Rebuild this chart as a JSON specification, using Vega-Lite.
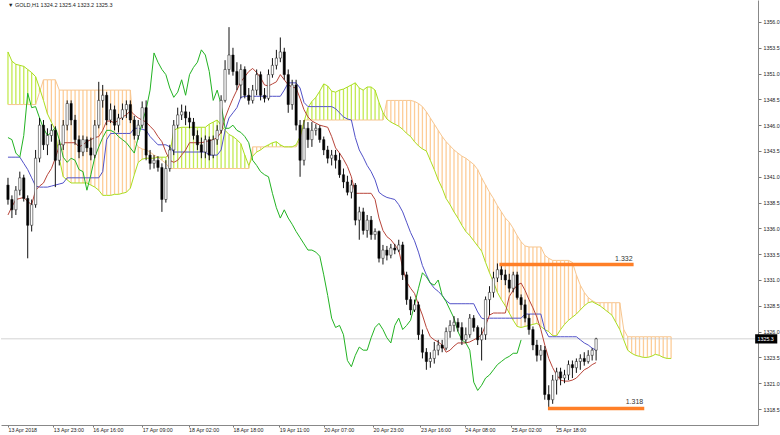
{
"$schema": "https://vega.github.io/schema/vega-lite/v6.json",
"width": 757, "height": 425, "padding": 0, "background": "white",
"config": {"view": {"stroke": null}, "font": "Liberation Sans"},
"datasets": {
"bars": [
{"i":0,"o":1340.2,"h":1340.9,"l":1338.3,"c":1338.8,"t":1337.3,"k":1342.9},
{"i":1,"o":1338.8,"h":1339.2,"l":1337.0,"c":1337.8,"t":1338.1,"k":1342.9},
{"i":2,"o":1337.8,"h":1340.1,"l":1337.3,"c":1339.7,"t":1338.8,"k":1342.9},
{"i":3,"o":1339.7,"h":1341.5,"l":1339.2,"c":1340.9,"t":1338.9,"k":1342.9},
{"i":4,"o":1340.9,"h":1341.2,"l":1338.6,"c":1338.9,"t":1339.0,"k":1342.3},
{"i":5,"o":1338.9,"h":1339.2,"l":1333.1,"c":1336.3,"t":1338.6,"k":1341.7},
{"i":6,"o":1336.3,"h":1338.8,"l":1335.7,"c":1338.3,"t":1338.3,"k":1340.9},
{"i":7,"o":1338.3,"h":1343.6,"l":1338.0,"c":1342.8,"t":1339.7,"k":1340.1},
{"i":8,"o":1342.8,"h":1346.7,"l":1342.4,"c":1346.0,"t":1340.1,"k":1340.0},
{"i":9,"o":1346.0,"h":1346.5,"l":1343.6,"c":1344.1,"t":1340.4,"k":1340.0},
{"i":10,"o":1344.1,"h":1345.7,"l":1343.1,"c":1345.0,"t":1341.2,"k":1340.0},
{"i":11,"o":1345.0,"h":1346.1,"l":1344.4,"c":1345.5,"t":1341.8,"k":1340.1},
{"i":12,"o":1345.5,"h":1345.9,"l":1340.0,"c":1342.6,"t":1342.8,"k":1340.2},
{"i":13,"o":1342.6,"h":1344.6,"l":1342.1,"c":1344.1,"t":1344.0,"k":1340.3},
{"i":14,"o":1344.1,"h":1346.5,"l":1343.6,"c":1346.0,"t":1344.3,"k":1340.4},
{"i":15,"o":1346.0,"h":1348.4,"l":1345.5,"c":1348.1,"t":1344.3,"k":1340.9},
{"i":16,"o":1348.1,"h":1348.4,"l":1346.0,"c":1346.5,"t":1344.3,"k":1340.9},
{"i":17,"o":1346.5,"h":1347.0,"l":1344.1,"c":1344.6,"t":1344.3,"k":1340.9},
{"i":18,"o":1344.6,"h":1345.0,"l":1342.8,"c":1343.4,"t":1343.9,"k":1340.9},
{"i":19,"o":1343.4,"h":1345.0,"l":1343.0,"c":1344.6,"t":1344.1,"k":1340.9},
{"i":20,"o":1344.6,"h":1344.9,"l":1343.4,"c":1343.8,"t":1344.4,"k":1340.9},
{"i":21,"o":1343.8,"h":1344.8,"l":1342.6,"c":1343.1,"t":1344.6,"k":1340.9},
{"i":22,"o":1343.1,"h":1346.5,"l":1342.8,"c":1346.0,"t":1344.8,"k":1340.9},
{"i":23,"o":1346.0,"h":1350.2,"l":1345.7,"c":1348.4,"t":1344.9,"k":1340.9},
{"i":24,"o":1348.4,"h":1349.9,"l":1347.7,"c":1348.9,"t":1345.5,"k":1341.5},
{"i":25,"o":1348.9,"h":1349.2,"l":1346.0,"c":1346.5,"t":1346.4,"k":1344.6},
{"i":26,"o":1346.5,"h":1348.1,"l":1346.2,"c":1347.5,"t":1346.4,"k":1345.2},
{"i":27,"o":1347.5,"h":1347.9,"l":1345.5,"c":1346.0,"t":1346.2,"k":1345.2},
{"i":28,"o":1346.0,"h":1347.1,"l":1345.3,"c":1346.7,"t":1346.5,"k":1345.2},
{"i":29,"o":1346.7,"h":1348.1,"l":1346.5,"c":1347.5,"t":1346.8,"k":1345.2},
{"i":30,"o":1347.5,"h":1348.4,"l":1346.7,"c":1348.0,"t":1347.0,"k":1345.2},
{"i":31,"o":1348.0,"h":1348.4,"l":1346.2,"c":1346.5,"t":1347.4,"k":1345.2},
{"i":32,"o":1346.5,"h":1346.9,"l":1344.6,"c":1345.0,"t":1347.0,"k":1345.7},
{"i":33,"o":1345.0,"h":1346.5,"l":1344.6,"c":1346.0,"t":1346.7,"k":1345.7},
{"i":34,"o":1346.0,"h":1348.3,"l":1345.7,"c":1347.7,"t":1346.5,"k":1345.6},
{"i":35,"o":1347.7,"h":1348.4,"l":1342.6,"c":1343.1,"t":1346.3,"k":1345.5},
{"i":36,"o":1343.1,"h":1343.6,"l":1341.7,"c":1342.3,"t":1345.9,"k":1344.9},
{"i":37,"o":1342.3,"h":1343.1,"l":1341.8,"c":1342.6,"t":1345.5,"k":1344.5},
{"i":38,"o":1342.6,"h":1343.0,"l":1341.5,"c":1341.9,"t":1344.9,"k":1344.1},
{"i":39,"o":1341.9,"h":1342.3,"l":1337.6,"c":1338.8,"t":1344.4,"k":1344.1},
{"i":40,"o":1338.8,"h":1342.6,"l":1338.5,"c":1341.8,"t":1343.4,"k":1344.1},
{"i":41,"o":1341.8,"h":1344.1,"l":1341.5,"c":1343.6,"t":1342.6,"k":1343.9},
{"i":42,"o":1343.6,"h":1346.5,"l":1343.1,"c":1346.0,"t":1342.4,"k":1343.4},
{"i":43,"o":1346.0,"h":1347.7,"l":1345.7,"c":1347.0,"t":1342.6,"k":1343.4},
{"i":44,"o":1347.0,"h":1348.0,"l":1346.5,"c":1347.3,"t":1343.1,"k":1343.4},
{"i":45,"o":1347.3,"h":1347.9,"l":1346.0,"c":1346.7,"t":1343.6,"k":1343.4},
{"i":46,"o":1346.7,"h":1347.3,"l":1345.7,"c":1346.3,"t":1344.3,"k":1343.4},
{"i":47,"o":1346.3,"h":1346.7,"l":1344.6,"c":1345.0,"t":1344.3,"k":1343.4},
{"i":48,"o":1345.0,"h":1345.5,"l":1343.6,"c":1344.1,"t":1344.3,"k":1343.4},
{"i":49,"o":1344.1,"h":1344.8,"l":1342.8,"c":1343.4,"t":1344.3,"k":1343.4},
{"i":50,"o":1343.4,"h":1345.0,"l":1342.8,"c":1344.6,"t":1344.4,"k":1343.4},
{"i":51,"o":1344.6,"h":1344.9,"l":1342.6,"c":1343.1,"t":1344.5,"k":1343.1},
{"i":52,"o":1343.1,"h":1345.0,"l":1342.8,"c":1344.6,"t":1344.6,"k":1343.1},
{"i":53,"o":1344.6,"h":1346.0,"l":1344.1,"c":1345.5,"t":1344.8,"k":1343.1},
{"i":54,"o":1345.5,"h":1348.9,"l":1345.2,"c":1348.4,"t":1345.3,"k":1343.6},
{"i":55,"o":1348.4,"h":1352.3,"l":1348.2,"c":1351.4,"t":1346.7,"k":1345.5},
{"i":56,"o":1351.4,"h":1355.5,"l":1350.9,"c":1352.8,"t":1347.7,"k":1346.7},
{"i":57,"o":1352.8,"h":1353.5,"l":1350.8,"c":1351.2,"t":1348.6,"k":1347.2},
{"i":58,"o":1351.2,"h":1352.1,"l":1349.4,"c":1349.9,"t":1349.4,"k":1347.7},
{"i":59,"o":1349.9,"h":1351.9,"l":1348.6,"c":1351.4,"t":1350.2,"k":1348.7},
{"i":60,"o":1351.4,"h":1351.7,"l":1348.6,"c":1348.9,"t":1350.7,"k":1348.8},
{"i":61,"o":1348.9,"h":1349.6,"l":1348.0,"c":1348.4,"t":1351.2,"k":1348.8},
{"i":62,"o":1348.4,"h":1349.9,"l":1348.1,"c":1349.4,"t":1351.5,"k":1348.8},
{"i":63,"o":1349.4,"h":1351.4,"l":1348.9,"c":1350.9,"t":1351.1,"k":1348.8},
{"i":64,"o":1350.9,"h":1351.2,"l":1348.4,"c":1348.9,"t":1350.6,"k":1348.8},
{"i":65,"o":1348.9,"h":1349.6,"l":1348.2,"c":1348.6,"t":1349.9,"k":1348.8},
{"i":66,"o":1348.6,"h":1351.4,"l":1348.4,"c":1350.9,"t":1349.8,"k":1348.8},
{"i":67,"o":1350.9,"h":1352.5,"l":1350.6,"c":1351.8,"t":1350.0,"k":1348.8},
{"i":68,"o":1351.8,"h":1353.3,"l":1351.4,"c":1352.5,"t":1350.2,"k":1348.8},
{"i":69,"o":1352.5,"h":1354.5,"l":1352.1,"c":1353.1,"t":1350.9,"k":1348.8},
{"i":70,"o":1353.1,"h":1353.5,"l":1350.4,"c":1350.9,"t":1350.4,"k":1349.4},
{"i":71,"o":1350.9,"h":1351.4,"l":1347.2,"c":1348.0,"t":1349.9,"k":1350.1},
{"i":72,"o":1348.0,"h":1350.4,"l":1347.5,"c":1349.9,"t":1349.7,"k":1350.1},
{"i":73,"o":1349.9,"h":1350.4,"l":1345.5,"c":1346.0,"t":1349.6,"k":1350.1},
{"i":74,"o":1346.0,"h":1346.5,"l":1341.0,"c":1342.6,"t":1348.6,"k":1349.6},
{"i":75,"o":1342.6,"h":1346.5,"l":1342.1,"c":1345.7,"t":1347.5,"k":1348.2},
{"i":76,"o":1345.7,"h":1346.3,"l":1343.8,"c":1344.6,"t":1346.8,"k":1347.8},
{"i":77,"o":1344.6,"h":1346.3,"l":1343.9,"c":1345.5,"t":1346.4,"k":1347.8},
{"i":78,"o":1345.5,"h":1346.1,"l":1345.0,"c":1345.7,"t":1346.2,"k":1347.8},
{"i":79,"o":1345.7,"h":1346.0,"l":1344.3,"c":1344.6,"t":1346.0,"k":1347.8},
{"i":80,"o":1344.6,"h":1344.9,"l":1343.1,"c":1343.6,"t":1345.9,"k":1347.8},
{"i":81,"o":1343.6,"h":1344.0,"l":1342.3,"c":1342.8,"t":1345.8,"k":1347.8},
{"i":82,"o":1342.8,"h":1343.6,"l":1342.1,"c":1343.1,"t":1344.9,"k":1347.8},
{"i":83,"o":1343.1,"h":1343.6,"l":1341.8,"c":1342.6,"t":1343.8,"k":1347.6},
{"i":84,"o":1342.6,"h":1343.3,"l":1340.9,"c":1341.2,"t":1343.3,"k":1347.2},
{"i":85,"o":1341.2,"h":1341.8,"l":1339.9,"c":1340.5,"t":1342.7,"k":1346.8},
{"i":86,"o":1340.5,"h":1341.1,"l":1339.2,"c":1339.5,"t":1342.0,"k":1346.6},
{"i":87,"o":1339.5,"h":1340.7,"l":1338.9,"c":1340.2,"t":1341.0,"k":1346.5},
{"i":88,"o":1340.2,"h":1340.4,"l":1336.3,"c":1336.8,"t":1339.4,"k":1344.8},
{"i":89,"o":1336.8,"h":1338.1,"l":1334.9,"c":1337.6,"t":1339.4,"k":1343.6},
{"i":90,"o":1337.6,"h":1338.0,"l":1335.4,"c":1335.8,"t":1339.4,"k":1342.9},
{"i":91,"o":1335.8,"h":1337.3,"l":1335.1,"c":1336.8,"t":1339.4,"k":1342.1},
{"i":92,"o":1336.8,"h":1337.2,"l":1334.9,"c":1335.4,"t":1339.4,"k":1341.5},
{"i":93,"o":1335.4,"h":1336.0,"l":1334.9,"c":1335.7,"t":1338.8,"k":1340.7},
{"i":94,"o":1335.7,"h":1335.8,"l":1332.7,"c":1333.1,"t":1337.0,"k":1339.5},
{"i":95,"o":1333.1,"h":1334.4,"l":1332.5,"c":1333.9,"t":1335.8,"k":1339.2},
{"i":96,"o":1333.9,"h":1334.3,"l":1332.9,"c":1333.4,"t":1335.2,"k":1339.0},
{"i":97,"o":1333.4,"h":1334.5,"l":1333.1,"c":1334.1,"t":1334.9,"k":1338.9},
{"i":98,"o":1334.1,"h":1334.5,"l":1333.5,"c":1333.9,"t":1334.4,"k":1338.8},
{"i":99,"o":1333.9,"h":1334.9,"l":1333.7,"c":1334.4,"t":1333.9,"k":1338.3},
{"i":100,"o":1334.4,"h":1334.7,"l":1331.0,"c":1331.5,"t":1332.2,"k":1337.6},
{"i":101,"o":1331.5,"h":1331.8,"l":1328.6,"c":1329.1,"t":1330.8,"k":1336.6},
{"i":102,"o":1329.1,"h":1329.4,"l":1327.6,"c":1328.1,"t":1330.2,"k":1335.6},
{"i":103,"o":1328.1,"h":1329.1,"l":1327.9,"c":1328.6,"t":1329.7,"k":1334.8},
{"i":104,"o":1328.6,"h":1328.9,"l":1325.2,"c":1325.7,"t":1328.6,"k":1333.7},
{"i":105,"o":1325.7,"h":1326.2,"l":1323.4,"c":1324.0,"t":1327.6,"k":1332.4},
{"i":106,"o":1324.0,"h":1324.4,"l":1322.3,"c":1323.1,"t":1326.4,"k":1331.5},
{"i":107,"o":1323.1,"h":1324.0,"l":1322.5,"c":1323.4,"t":1325.5,"k":1330.7},
{"i":108,"o":1323.4,"h":1325.0,"l":1322.9,"c":1324.2,"t":1325.2,"k":1330.2},
{"i":109,"o":1324.2,"h":1325.2,"l":1323.7,"c":1324.7,"t":1325.0,"k":1329.9},
{"i":110,"o":1324.7,"h":1325.2,"l":1324.0,"c":1324.4,"t":1324.7,"k":1329.5},
{"i":111,"o":1324.4,"h":1326.4,"l":1324.2,"c":1326.0,"t":1324.0,"k":1329.0},
{"i":112,"o":1326.0,"h":1327.1,"l":1325.4,"c":1326.6,"t":1324.2,"k":1328.7},
{"i":113,"o":1326.6,"h":1327.5,"l":1326.0,"c":1326.9,"t":1324.6,"k":1328.7},
{"i":114,"o":1326.9,"h":1327.3,"l":1326.0,"c":1326.4,"t":1324.9,"k":1328.7},
{"i":115,"o":1326.4,"h":1326.9,"l":1324.7,"c":1325.2,"t":1324.9,"k":1328.7},
{"i":116,"o":1325.2,"h":1326.4,"l":1324.9,"c":1325.7,"t":1324.9,"k":1328.7},
{"i":117,"o":1325.7,"h":1327.7,"l":1325.4,"c":1327.3,"t":1325.0,"k":1328.7},
{"i":118,"o":1327.3,"h":1327.6,"l":1326.0,"c":1326.4,"t":1325.2,"k":1328.7},
{"i":119,"o":1326.4,"h":1326.6,"l":1324.7,"c":1325.2,"t":1325.4,"k":1327.9},
{"i":120,"o":1325.2,"h":1326.4,"l":1323.2,"c":1325.7,"t":1325.7,"k":1327.3},
{"i":121,"o":1325.7,"h":1329.4,"l":1325.2,"c":1329.1,"t":1326.6,"k":1327.2},
{"i":122,"o":1329.1,"h":1330.4,"l":1327.6,"c":1329.8,"t":1327.6,"k":1327.3},
{"i":123,"o":1329.8,"h":1331.8,"l":1329.3,"c":1331.2,"t":1327.8,"k":1327.3},
{"i":124,"o":1331.2,"h":1332.6,"l":1330.8,"c":1332.0,"t":1327.8,"k":1327.3},
{"i":125,"o":1332.0,"h":1332.4,"l":1331.0,"c":1331.5,"t":1327.8,"k":1327.3},
{"i":126,"o":1331.5,"h":1332.0,"l":1330.5,"c":1331.0,"t":1327.8,"k":1327.3},
{"i":127,"o":1331.0,"h":1331.6,"l":1329.8,"c":1330.2,"t":1329.4,"k":1327.3},
{"i":128,"o":1330.2,"h":1331.8,"l":1329.8,"c":1331.5,"t":1330.0,"k":1327.3},
{"i":129,"o":1331.5,"h":1331.8,"l":1329.1,"c":1329.3,"t":1330.5,"k":1327.3},
{"i":130,"o":1329.3,"h":1329.6,"l":1328.1,"c":1328.6,"t":1330.7,"k":1327.3},
{"i":131,"o":1328.6,"h":1329.1,"l":1326.9,"c":1327.3,"t":1330.0,"k":1327.7},
{"i":132,"o":1327.3,"h":1327.7,"l":1325.7,"c":1326.2,"t":1329.1,"k":1327.7},
{"i":133,"o":1326.2,"h":1326.5,"l":1324.2,"c":1324.7,"t":1328.3,"k":1327.7},
{"i":134,"o":1324.7,"h":1325.2,"l":1323.1,"c":1323.7,"t":1327.4,"k":1327.7},
{"i":135,"o":1323.7,"h":1324.7,"l":1323.2,"c":1324.2,"t":1326.2,"k":1327.7},
{"i":136,"o":1324.2,"h":1324.6,"l":1319.4,"c":1319.9,"t":1324.7,"k":1326.2},
{"i":137,"o":1319.9,"h":1320.8,"l":1318.7,"c":1319.4,"t":1323.4,"k":1325.5},
{"i":138,"o":1319.4,"h":1321.8,"l":1319.0,"c":1321.3,"t":1322.5,"k":1325.5},
{"i":139,"o":1321.3,"h":1322.5,"l":1319.9,"c":1322.1,"t":1321.8,"k":1325.5},
{"i":140,"o":1322.1,"h":1322.5,"l":1320.8,"c":1321.5,"t":1321.3,"k":1325.5},
{"i":141,"o":1321.5,"h":1322.3,"l":1321.0,"c":1321.8,"t":1321.2,"k":1325.5},
{"i":142,"o":1321.8,"h":1323.2,"l":1321.3,"c":1322.8,"t":1321.2,"k":1325.5},
{"i":143,"o":1322.8,"h":1323.2,"l":1321.5,"c":1322.5,"t":1321.3,"k":1325.5},
{"i":144,"o":1322.5,"h":1323.4,"l":1322.0,"c":1323.1,"t":1321.5,"k":1325.5},
{"i":145,"o":1323.1,"h":1323.8,"l":1322.3,"c":1323.4,"t":1321.9,"k":1325.2},
{"i":146,"o":1323.4,"h":1324.0,"l":1322.7,"c":1323.1,"t":1322.3,"k":1324.9},
{"i":147,"o":1323.1,"h":1324.2,"l":1322.9,"c":1323.7,"t":1322.5,"k":1324.7},
{"i":148,"o":1323.7,"h":1324.4,"l":1323.2,"c":1324.2,"t":1322.8,"k":1324.4},
{"i":149,"o":1324.2,"h":1325.4,"l":1323.2,"c":1325.3,"t":1323.0,"k":1324.2}
],
"chikou": [
{"i":0,"v":1344.8},{"i":1,"v":1344.6},{"i":2,"v":1343.3},{"i":3,"v":1342.9},{"i":4,"v":1345.0},{"i":5,"v":1349.1},{"i":6,"v":1347.7},{"i":7,"v":1347.8},{"i":8,"v":1346.7},{"i":9,"v":1345.7},
{"i":10,"v":1345.0},{"i":11,"v":1345.3},{"i":12,"v":1345.8},{"i":13,"v":1344.6},{"i":14,"v":1342.9},{"i":15,"v":1342.4},{"i":16,"v":1342.8},{"i":17,"v":1342.6},{"i":18,"v":1341.7},{"i":19,"v":1341.5},
{"i":20,"v":1339.7},{"i":21,"v":1341.2},{"i":22,"v":1342.9},{"i":23,"v":1343.9},{"i":24,"v":1344.8},{"i":25,"v":1345.5},{"i":26,"v":1345.5},{"i":27,"v":1345.3},{"i":28,"v":1344.9},{"i":29,"v":1344.6},
{"i":30,"v":1344.3},{"i":31,"v":1343.8},{"i":32,"v":1343.3},{"i":33,"v":1344.8},{"i":34,"v":1346.3},{"i":35,"v":1347.5},{"i":36,"v":1349.4},{"i":37,"v":1353.0},{"i":38,"v":1352.1},{"i":39,"v":1351.4},
{"i":40,"v":1350.9},{"i":41,"v":1349.6},{"i":42,"v":1348.7},{"i":43,"v":1349.2},{"i":44,"v":1350.4},{"i":45,"v":1348.9},{"i":46,"v":1350.9},{"i":47,"v":1351.6},{"i":48,"v":1352.1},{"i":49,"v":1353.3},
{"i":50,"v":1352.8},{"i":51,"v":1351.2},{"i":52,"v":1348.4},{"i":53,"v":1349.4},{"i":54,"v":1348.0},{"i":55,"v":1345.7},{"i":56,"v":1345.7},{"i":57,"v":1346.0},{"i":58,"v":1345.5},{"i":59,"v":1345.3},
{"i":60,"v":1344.9},{"i":61,"v":1344.3},{"i":62,"v":1342.6},{"i":63,"v":1342.1},{"i":64,"v":1341.5},{"i":65,"v":1341.2},{"i":66,"v":1341.0},{"i":67,"v":1339.4},{"i":68,"v":1338.0},{"i":69,"v":1337.0},
{"i":70,"v":1337.8},{"i":71,"v":1337.0},{"i":72,"v":1336.4},{"i":73,"v":1335.7},{"i":74,"v":1335.1},{"i":75,"v":1334.5},{"i":76,"v":1333.9},{"i":77,"v":1333.9},{"i":78,"v":1333.7},{"i":79,"v":1333.3},
{"i":80,"v":1331.5},{"i":81,"v":1329.5},{"i":82,"v":1327.3},{"i":83,"v":1326.4},{"i":84,"v":1326.6},{"i":85,"v":1325.7},{"i":86,"v":1323.2},{"i":87,"v":1322.6},{"i":88,"v":1323.7},{"i":89,"v":1324.5},
{"i":90,"v":1324.2},{"i":91,"v":1324.2},{"i":92,"v":1325.4},{"i":93,"v":1326.4},{"i":94,"v":1326.8},{"i":95,"v":1326.2},{"i":96,"v":1325.4},{"i":97,"v":1324.9},{"i":98,"v":1326.6},{"i":99,"v":1327.3},
{"i":100,"v":1326.2},{"i":101,"v":1326.6},{"i":102,"v":1327.1},{"i":103,"v":1328.6},{"i":104,"v":1330.2},{"i":105,"v":1331.7},{"i":106,"v":1331.3},{"i":107,"v":1330.7},{"i":108,"v":1330.5},{"i":109,"v":1331.0},
{"i":110,"v":1329.5},{"i":111,"v":1328.9},{"i":112,"v":1328.1},{"i":113,"v":1327.3},{"i":114,"v":1326.0},{"i":115,"v":1325.2},{"i":116,"v":1324.9},{"i":117,"v":1324.2},{"i":118,"v":1321.1},{"i":119,"v":1320.3},
{"i":120,"v":1320.8},{"i":121,"v":1321.5},{"i":122,"v":1321.8},{"i":123,"v":1322.3},{"i":124,"v":1322.8},{"i":125,"v":1323.1},{"i":126,"v":1323.4},{"i":127,"v":1323.6},{"i":128,"v":1323.9},{"i":129,"v":1323.9},
{"i":130,"v":1325.2}
],
"cloud": [
{"i":0,"a":1353.1,"b":1348.0},{"i":1,"a":1352.2,"b":1348.0},{"i":2,"a":1351.9,"b":1348.0},{"i":3,"a":1351.8,"b":1348.0},{"i":4,"a":1351.7,"b":1348.0},{"i":5,"a":1351.4,"b":1348.0},{"i":6,"a":1351.1,"b":1348.0},{"i":7,"a":1350.7,"b":1348.0},{"i":8,"a":1349.6,"b":1349.2},{"i":9,"a":1348.4,"b":1350.4},
{"i":10,"a":1347.1,"b":1350.4},{"i":11,"a":1346.3,"b":1350.4},{"i":12,"a":1345.5,"b":1350.4},{"i":13,"a":1342.8,"b":1349.4},{"i":14,"a":1341.0,"b":1349.4},{"i":15,"a":1340.7,"b":1349.4},{"i":16,"a":1340.4,"b":1349.4},{"i":17,"a":1340.4,"b":1349.4},{"i":18,"a":1340.4,"b":1349.4},{"i":19,"a":1340.4,"b":1349.4},
{"i":20,"a":1340.4,"b":1349.4},{"i":21,"a":1340.2,"b":1349.4},{"i":22,"a":1340.0,"b":1349.4},{"i":23,"a":1339.7,"b":1349.4},{"i":24,"a":1339.2,"b":1349.4},{"i":25,"a":1339.2,"b":1349.4},{"i":26,"a":1339.2,"b":1349.4},{"i":27,"a":1339.3,"b":1349.4},{"i":28,"a":1339.3,"b":1349.4},{"i":29,"a":1339.4,"b":1349.4},
{"i":30,"a":1339.5,"b":1349.4},{"i":31,"a":1339.9,"b":1349.4},{"i":32,"a":1341.2,"b":1344.6},{"i":33,"a":1342.4,"b":1343.9},{"i":34,"a":1342.7,"b":1343.7},{"i":35,"a":1342.8,"b":1343.6},{"i":36,"a":1342.8,"b":1343.4},{"i":37,"a":1342.8,"b":1343.1},{"i":38,"a":1342.9,"b":1342.9},{"i":39,"a":1342.9,"b":1342.6},
{"i":40,"a":1342.9,"b":1342.3},{"i":41,"a":1343.2,"b":1341.8},{"i":42,"a":1345.5,"b":1341.8},{"i":43,"a":1345.7,"b":1341.8},{"i":44,"a":1345.8,"b":1341.8},{"i":45,"a":1345.8,"b":1341.8},{"i":46,"a":1345.8,"b":1341.8},{"i":47,"a":1345.8,"b":1341.8},{"i":48,"a":1345.8,"b":1341.8},{"i":49,"a":1345.8,"b":1341.8},
{"i":50,"a":1345.8,"b":1341.8},{"i":51,"a":1346.1,"b":1341.8},{"i":52,"a":1346.3,"b":1341.8},{"i":53,"a":1346.5,"b":1341.8},{"i":54,"a":1346.0,"b":1341.8},{"i":55,"a":1345.5,"b":1341.8},{"i":56,"a":1345.1,"b":1341.8},{"i":57,"a":1344.9,"b":1341.8},{"i":58,"a":1344.6,"b":1341.8},{"i":59,"a":1344.2,"b":1341.8},
{"i":60,"a":1343.1,"b":1341.8},{"i":61,"a":1342.1,"b":1341.8},{"i":62,"a":1343.0,"b":1343.9},{"i":63,"a":1343.4,"b":1343.9},{"i":64,"a":1343.6,"b":1343.9},{"i":65,"a":1343.9,"b":1343.9},{"i":66,"a":1344.1,"b":1343.9},{"i":67,"a":1344.3,"b":1343.9},{"i":68,"a":1344.4,"b":1343.9},{"i":69,"a":1344.1,"b":1343.9},
{"i":70,"a":1343.9,"b":1343.9},{"i":71,"a":1343.9,"b":1343.9},{"i":72,"a":1343.9,"b":1343.9},{"i":73,"a":1344.1,"b":1343.9},{"i":74,"a":1344.9,"b":1344.6},{"i":75,"a":1346.3,"b":1346.5},{"i":76,"a":1347.7,"b":1346.5},{"i":77,"a":1348.3,"b":1346.5},{"i":78,"a":1348.7,"b":1346.5},{"i":79,"a":1349.3,"b":1346.5},
{"i":80,"a":1350.0,"b":1346.5},{"i":81,"a":1349.8,"b":1346.5},{"i":82,"a":1349.3,"b":1346.5},{"i":83,"a":1349.2,"b":1346.5},{"i":84,"a":1349.4,"b":1346.5},{"i":85,"a":1349.5,"b":1346.5},{"i":86,"a":1349.7,"b":1346.5},{"i":87,"a":1349.9,"b":1346.5},{"i":88,"a":1350.1,"b":1346.5},{"i":89,"a":1349.6,"b":1346.5},
{"i":90,"a":1349.4,"b":1346.5},{"i":91,"a":1349.7,"b":1346.5},{"i":92,"a":1349.7,"b":1346.5},{"i":93,"a":1349.4,"b":1346.5},{"i":94,"a":1348.2,"b":1346.5},{"i":95,"a":1347.2,"b":1346.5},{"i":96,"a":1346.6,"b":1348.4},{"i":97,"a":1346.3,"b":1348.4},{"i":98,"a":1346.1,"b":1348.4},{"i":99,"a":1345.9,"b":1348.4},
{"i":100,"a":1345.6,"b":1348.4},{"i":101,"a":1345.2,"b":1348.4},{"i":102,"a":1344.9,"b":1348.4},{"i":103,"a":1344.4,"b":1348.3},{"i":104,"a":1344.0,"b":1348.1},{"i":105,"a":1343.7,"b":1347.8},{"i":106,"a":1343.5,"b":1347.3},{"i":107,"a":1342.6,"b":1346.7},{"i":108,"a":1341.7,"b":1346.1},{"i":109,"a":1340.7,"b":1345.5},
{"i":110,"a":1339.9,"b":1344.9},{"i":111,"a":1338.9,"b":1344.4},{"i":112,"a":1338.3,"b":1344.0},{"i":113,"a":1337.6,"b":1343.6},{"i":114,"a":1337.0,"b":1343.3},{"i":115,"a":1336.3,"b":1343.0},{"i":116,"a":1335.7,"b":1342.8},{"i":117,"a":1335.3,"b":1342.5},{"i":118,"a":1334.8,"b":1342.2},{"i":119,"a":1334.3,"b":1341.7},
{"i":120,"a":1333.8,"b":1340.9},{"i":121,"a":1332.7,"b":1340.2},{"i":122,"a":1331.7,"b":1339.5},{"i":123,"a":1330.8,"b":1338.9},{"i":124,"a":1329.8,"b":1338.2},{"i":125,"a":1329.1,"b":1337.6},{"i":126,"a":1328.5,"b":1337.0},{"i":127,"a":1327.8,"b":1336.6},{"i":128,"a":1327.1,"b":1336.0},{"i":129,"a":1326.5,"b":1335.3},
{"i":130,"a":1326.4,"b":1334.7},{"i":131,"a":1326.5,"b":1334.3},{"i":132,"a":1326.6,"b":1334.2},{"i":133,"a":1326.7,"b":1334.2},{"i":134,"a":1326.8,"b":1334.2},{"i":135,"a":1326.5,"b":1334.2},{"i":136,"a":1326.2,"b":1333.4},{"i":137,"a":1326.0,"b":1333.1},{"i":138,"a":1325.6,"b":1332.9},{"i":139,"a":1325.6,"b":1332.9},
{"i":140,"a":1326.2,"b":1332.9},{"i":141,"a":1326.7,"b":1332.9},{"i":142,"a":1327.1,"b":1332.9},{"i":143,"a":1327.4,"b":1332.7},{"i":144,"a":1327.7,"b":1331.5},{"i":145,"a":1328.1,"b":1330.5},{"i":146,"a":1328.5,"b":1329.8},{"i":147,"a":1328.8,"b":1329.3},{"i":148,"a":1328.9,"b":1329.0},{"i":149,"a":1328.7,"b":1328.8},
{"i":150,"a":1328.5,"b":1328.8},{"i":151,"a":1328.2,"b":1328.8},{"i":152,"a":1327.9,"b":1328.8},{"i":153,"a":1327.6,"b":1328.8},{"i":154,"a":1326.9,"b":1328.8},{"i":155,"a":1326.2,"b":1328.8},{"i":156,"a":1325.2,"b":1326.2},{"i":157,"a":1324.2,"b":1325.5},{"i":158,"a":1323.9,"b":1325.5},{"i":159,"a":1323.7,"b":1325.5},
{"i":160,"a":1323.6,"b":1325.5},{"i":161,"a":1323.5,"b":1325.5},{"i":162,"a":1323.5,"b":1325.5},{"i":163,"a":1323.6,"b":1325.5},{"i":164,"a":1323.8,"b":1325.5},{"i":165,"a":1323.7,"b":1325.5},{"i":166,"a":1323.5,"b":1325.5},{"i":167,"a":1323.4,"b":1325.5},{"i":168,"a":1323.4,"b":1325.5}
],
"levels": [
{"s":124.5,"e":158.5,"p":1332.5,"t":"1.332"},
{"s":136.8,"e":161.2,"p":1318.55,"t":"1.318"}
],
"bid": [{"p":1325.3}],
"head": [{"t":"▼  GOLD,H1  1324.2 1325.4 1323.2 1325.3"}]
},
"layer": [
{"data":{"name":"cloud"},"mark":{"type":"rule","strokeWidth":1.3},
 "encoding":{
  "x": {"field":"i","type":"quantitative","title":null,
   "scale":{"domain":[-0.5,188.75],"nice":false,"zero":false},
   "axis":{"title":null,"orient":"bottom","grid":false,"tickCount":30,
    "values":[0,11.5,21.5,34,45.75,57,68.75,80,92.5,104.5,115.75,127.5,138.75],
    "labelExpr":"['13 Apr 2018','13 Apr 23:00','16 Apr 16:00','17 Apr 09:00','18 Apr 02:00','18 Apr 18:00','19 Apr 11:00','20 Apr 07:00','20 Apr 23:00','23 Apr 16:00','24 Apr 08:00','25 Apr 02:00','25 Apr 18:00'][indexof([0,11.5,21.5,34,45.75,57,68.75,80,92.5,104.5,115.75,127.5,138.75], datum.value)]",
    "labelAlign":"left","labelBaseline":"top","labelPadding":0,"labelFontSize":5.3,"labelColor":"#222",
    "labelFlush":false,"labelOverlap":false,"tickSize":2,"tickColor":"#777","domainColor":"#888"}},
  "y":{"field":"a","type":"quantitative","title":null,
   "scale":{"domain":[1316.95,1358.13],"nice":false,"zero":false},
   "axis":{"orient":"right","grid":false,"title":null,"labelOverlap":false,"tickCount":30,
    "values":[1318.5,1321,1323.5,1326,1328.5,1331,1333.5,1336,1338.5,1341,1343.5,1346,1348.5,1351,1353.5,1356],
    "format":".1f","labelFontSize":5.3,"labelColor":"#222","labelPadding":2,"tickSize":3,"tickColor":"#777","domainColor":"#888"}},
  "y2":{"field":"b"},
  "color":{"condition":{"test":"datum.a >= datum.b","value":"#C3EA52"},"value":"#FDCD98"}}},
{"data":{"name":"cloud"},"mark":{"type":"line","strokeWidth":1,"color":"#F7C690"},
 "encoding":{"x":{"field":"i","type":"quantitative","title":null},"y":{"field":"b","type":"quantitative","title":null}}},
{"data":{"name":"cloud"},"mark":{"type":"line","strokeWidth":1,"color":"#A9DE1F"},
 "encoding":{"x":{"field":"i","type":"quantitative","title":null},"y":{"field":"a","type":"quantitative","title":null}}},
{"data":{"name":"bid"},"mark":{"type":"rule","strokeWidth":0.8,"color":"#C8C8C8"},
 "encoding":{"y":{"field":"p","type":"quantitative","title":null}}},
{"data":{"name":"bars"},"mark":{"type":"line","strokeWidth":1,"color":"#5252C8"},
 "encoding":{"x":{"field":"i","type":"quantitative","title":null},"y":{"field":"k","type":"quantitative","title":null}}},
{"data":{"name":"bars"},"mark":{"type":"line","strokeWidth":1,"color":"#B8453A"},
 "encoding":{"x":{"field":"i","type":"quantitative","title":null},"y":{"field":"t","type":"quantitative","title":null}}},
{"data":{"name":"chikou"},"mark":{"type":"line","strokeWidth":1,"color":"#22B322"},
 "encoding":{"x":{"field":"i","type":"quantitative","title":null},"y":{"field":"v","type":"quantitative","title":null}}},
{"data":{"name":"bars"},"mark":{"type":"rule","strokeWidth":1,"color":"#111"},
 "encoding":{"x":{"field":"i","type":"quantitative","title":null},"y":{"field":"l","type":"quantitative","title":null},"y2":{"field":"h"}}},
{"data":{"name":"bars"},"mark":{"type":"bar","width":2.3,"stroke":"#111","strokeWidth":0.5},
 "encoding":{"x":{"field":"i","type":"quantitative","title":null},"y":{"field":"o","type":"quantitative","title":null},"y2":{"field":"c"},
  "fill":{"condition":{"test":"datum.c < datum.o","value":"#000000"},"value":"#ffffff"}}},
{"data":{"name":"levels"},"mark":{"type":"rule","strokeWidth":3.5,"color":"#FF7F27"},
 "encoding":{"x":{"field":"s","type":"quantitative","title":null},"x2":{"field":"e"},
  "y":{"field":"p","type":"quantitative","title":null}}},
{"data":{"name":"levels"},"mark":{"type":"text","align":"right","baseline":"middle","dy":-6,"dx":-1,"fontSize":7,"color":"#333"},
 "encoding":{"x":{"field":"e","type":"quantitative","title":null},
  "y":{"field":"p","type":"quantitative","title":null},
  "text":{"field":"t"}}},
{"data":{"name":"bid"},"mark":{"type":"rect","color":"#000000","clip":false},
 "encoding":{"x":{"datum":189.3,"type":"quantitative","title":null},"x2":{"datum":194.9},
  "y":{"datum":1325.75,"type":"quantitative","title":null},"y2":{"datum":1324.85}}},
{"data":{"name":"bid"},"mark":{"type":"text","align":"left","baseline":"middle","fontSize":5.3,"color":"#ffffff","clip":false},
 "encoding":{"x":{"datum":189.9,"type":"quantitative","title":null},
  "y":{"field":"p","type":"quantitative","title":null},
  "text":{"field":"p","type":"quantitative","format":".1f"}}},
{"data":{"name":"head"},"mark":{"type":"text","align":"left","baseline":"middle","fontSize":5.5,"color":"#222"},
 "encoding":{"x":{"datum":0,"type":"quantitative","title":null},
  "y":{"datum":1357.6,"type":"quantitative","title":null},
  "text":{"field":"t"}}}
]
}
